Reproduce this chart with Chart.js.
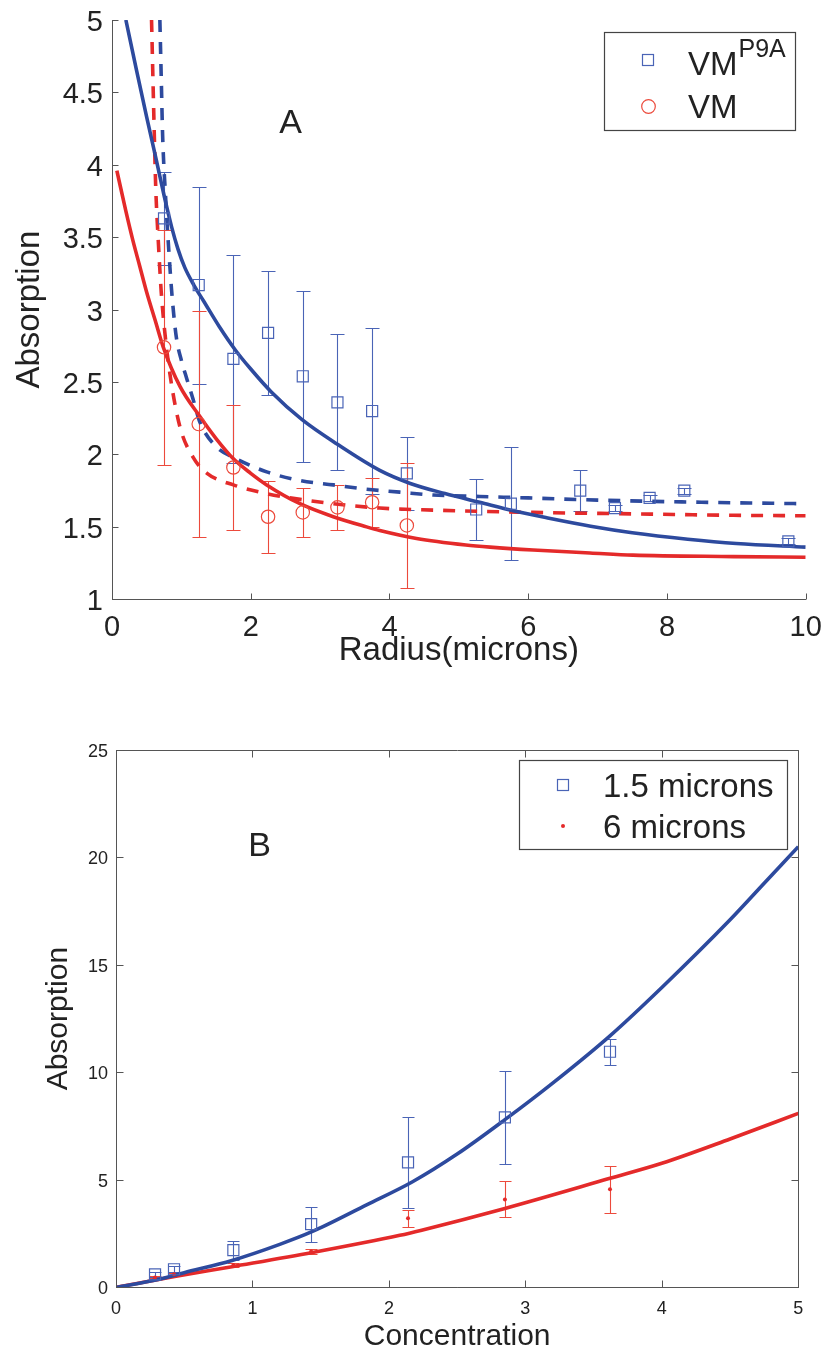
<!DOCTYPE html>
<html>
<head>
<meta charset="utf-8">
<script src="https://cdn.jsdelivr.net/npm/chart.js@4.4.0/dist/chart.umd.min.js"></script>
<style>
html,body{margin:0;padding:0;background:#fff;}
#wrap{position:relative;width:828px;height:1352px;overflow:hidden;}
canvas{position:absolute;left:0;}
#cA{top:0;}
#cB{top:690px;}
</style>
</head>
<body>
<div id="wrap">
<canvas id="cA" width="828" height="690"></canvas>
<canvas id="cB" width="828" height="662"></canvas>
</div>
<script>
// ---------------- Panel A data ----------------
const radiusP9A = [0.75, 1.25, 1.75, 2.25, 2.75, 3.25, 3.75, 4.25, 5.25, 5.75, 6.75, 7.25, 7.75, 8.25, 9.75];
const absP9A    = [3.63, 3.17, 2.66, 2.84, 2.54, 2.36, 2.30, 1.87, 1.62, 1.66, 1.75, 1.63, 1.70, 1.75, 1.40];
const errP9A    = [0.32, 0.68, 0.72, 0.43, 0.59, 0.47, 0.57, 0.25, 0.21, 0.39, 0.14, 0.02, 0.02, 0.02, 0.02];

const radiusVM = [0.75, 1.25, 1.75, 2.25, 2.75, 3.25, 3.75, 4.25];
const absVM    = [2.74, 2.21, 1.91, 1.57, 1.60, 1.635, 1.67, 1.51];
const errVM    = [0.81, 0.78, 0.43, 0.25, 0.17, 0.155, 0.17, 0.43];

// fitted curves
const fitP9ASolidX = [0.2, 0.35, 0.5, 0.64, 0.75, 0.86, 0.95, 1.05, 1.18, 1.32, 1.55, 1.78, 2.0, 2.3, 2.74, 3.25, 3.86, 4.3, 4.8, 5.3, 5.8, 6.3, 6.9, 7.5, 8.3, 9.0, 10];
const fitP9ASolidY = [5.0, 4.66, 4.33, 4.03, 3.79, 3.57, 3.42, 3.29, 3.17, 3.06, 2.88, 2.72, 2.59, 2.43, 2.24, 2.07, 1.89, 1.80, 1.73, 1.67, 1.61, 1.56, 1.505, 1.46, 1.415, 1.385, 1.36];

const fitVMSolidX = [0.07, 0.2, 0.3, 0.4, 0.5, 0.62, 0.74, 0.98, 1.27, 1.5, 1.75, 2.0, 2.23, 2.71, 3.19, 3.67, 3.86, 4.39, 5.1, 5.45, 6.07, 6.89, 7.51, 8.96, 10];
const fitVMSolidY = [3.96, 3.68, 3.48, 3.30, 3.12, 2.93, 2.74, 2.47, 2.26, 2.11, 1.97, 1.87, 1.79, 1.66, 1.57, 1.50, 1.475, 1.42, 1.375, 1.36, 1.34, 1.32, 1.305, 1.295, 1.29];

const fitP9ADashX = [0.69, 0.71, 0.73, 0.77, 0.82, 0.87, 0.93, 1.0, 1.08, 1.17, 1.27, 1.51, 1.75, 2.23, 2.71, 3.19, 3.67, 4.15, 4.63, 5.3, 6.0, 7.0, 8.5, 10];
const fitP9ADashY = [5.0, 4.6, 4.2, 3.8, 3.4, 3.07, 2.80, 2.65, 2.52, 2.38, 2.22, 2.05, 1.98, 1.88, 1.82, 1.79, 1.76, 1.74, 1.72, 1.71, 1.70, 1.685, 1.67, 1.66];

const fitVMDashX = [0.57, 0.60, 0.63, 0.67, 0.71, 0.76, 0.84, 0.98, 1.17, 1.37, 1.75, 2.23, 2.71, 3.19, 3.86, 4.63, 6.07, 7.51, 8.96, 10];
const fitVMDashY = [5.0, 4.4, 3.85, 3.45, 3.12, 2.85, 2.54, 2.19, 1.98, 1.87, 1.79, 1.73, 1.69, 1.66, 1.63, 1.616, 1.60, 1.59, 1.58, 1.577];

const xTicksA = [0, 2, 4, 6, 8, 10];
const yTicksA = [1, 1.5, 2, 2.5, 3, 3.5, 4, 4.5, 5];

// ---------------- Panel B data ----------------
const concentration = [0.286, 0.425, 0.86, 1.43, 2.14, 2.85, 3.62];
const abs15  = [0.60, 0.84, 1.73, 2.94, 5.81, 7.91, 10.96];
const err15  = [0.10, 0.14, 0.44, 0.81, 2.10, 2.15, 0.60];
const abs6   = [0.46, 0.61, 1.04, 1.66, 3.21, 4.09, 4.56];
const err6   = [0.05, 0.05, 0.10, 0.12, 0.40, 0.84, 1.10];

const fit15X = [0, 0.3, 0.5, 0.85, 1.2, 1.44, 1.84, 2.17, 2.5, 2.85, 3.2, 3.62, 4.0, 4.5, 4.75, 5.0];
const fit15Y = [0, 0.35, 0.68, 1.25, 2.0, 2.6, 3.85, 4.9, 6.2, 7.8, 9.5, 11.7, 13.95, 17.1, 18.8, 20.5];
const fit6X  = [0, 0.43, 0.85, 1.44, 2.08, 2.24, 2.85, 3.62, 4.0, 4.5, 5.0];
const fit6Y  = [0, 0.5, 0.96, 1.62, 2.42, 2.66, 3.67, 5.07, 5.77, 6.9, 8.09];

const xTicksB = [0, 1, 2, 3, 4, 5];
const yTicksB = [0, 5, 10, 15, 20, 25];

const legendA = ['VM', 'VM'];
const legendASup = 'P9A';
const legendB = ['1.5 microns', '6 microns'];

// ---------------- styles ----------------
const FONT = "'Liberation Sans', Arial, Helvetica, sans-serif";
Chart.defaults.font.family = FONT;
Chart.defaults.color = '#222';
const BLUE = '#2d4a9e';
const RED = '#e42a2a';
const BLUE_M = '#4a64b6';
const RED_M = '#ec4a3c';

const pts = (xs, ys) => xs.map((x, i) => ({x: x, y: ys[i]}));

const errorBars = {
  id: 'errorBars',
  beforeDatasetsDraw(chart) {
    const {ctx, scales: {x, y}} = chart;
    chart.data.datasets.forEach((ds) => {
      if (!ds.errors) return;
      ctx.save();
      ctx.strokeStyle = ds.errorColor;
      ctx.lineWidth = 1.1;
      const cap = ds.capHalf;
      ds.data.forEach((p, k) => {
        const e = ds.errors[k];
        const px = Math.round(x.getPixelForValue(p.x)) + 0.5;
        const y1 = Math.round(y.getPixelForValue(p.y + e)) + 0.5;
        const y2 = Math.round(y.getPixelForValue(p.y - e)) + 0.5;
        ctx.beginPath();
        ctx.moveTo(px, y1); ctx.lineTo(px, y2);
        ctx.moveTo(px - cap, y1); ctx.lineTo(px + cap, y1);
        ctx.moveTo(px - cap, y2); ctx.lineTo(px + cap, y2);
        ctx.stroke();
      });
      ctx.restore();
    });
  }
};

const frame = {
  id: 'frame',
  afterDraw(chart, args, opts) {
    const {ctx, chartArea: a, scales: {x, y}} = chart;
    const L = opts.len;
    ctx.save();
    ctx.strokeStyle = opts.color;
    ctx.lineWidth = 1;
    const l = Math.round(a.left) + 0.5, r = Math.round(a.right) + 0.5;
    const t = Math.round(a.top) + 0.5, b = Math.round(a.bottom) + 0.5;
    ctx.beginPath();
    if (opts.box) { ctx.rect(l, t, r - l, b - t); }
    x.ticks.forEach(tk => {
      const p = Math.round(x.getPixelForValue(tk.value)) + 0.5;
      ctx.moveTo(p, b); ctx.lineTo(p, b - L);
      if (opts.box) { ctx.moveTo(p, t); ctx.lineTo(p, t + L); }
    });
    y.ticks.forEach(tk => {
      const p = Math.round(y.getPixelForValue(tk.value)) + 0.5;
      ctx.moveTo(l, p); ctx.lineTo(l + L, p);
      if (opts.box) { ctx.moveTo(r, p); ctx.lineTo(r - L, p); }
    });
    ctx.stroke();
    ctx.fillStyle = '#222';
    ctx.font = opts.letterSize + 'px ' + FONT;
    ctx.textAlign = 'left';
    ctx.textBaseline = 'alphabetic';
    ctx.fillText(opts.letter, x.getPixelForValue(opts.letterX), y.getPixelForValue(opts.letterY));
    ctx.restore();
  }
};

const legendPanelA = {
  id: 'legendPanelA',
  afterDraw(chart) {
    const ctx = chart.ctx;
    ctx.save();
    ctx.fillStyle = '#fff';
    ctx.fillRect(604.5, 32.5, 191, 98);
    ctx.strokeStyle = '#444'; ctx.lineWidth = 1.2;
    ctx.strokeRect(604.5, 32.5, 191, 98);
    ctx.strokeStyle = BLUE_M; ctx.lineWidth = 1.2;
    ctx.strokeRect(642.5, 54.5, 11, 11);
    ctx.strokeStyle = RED_M;
    ctx.beginPath(); ctx.arc(648.5, 106.5, 6.8, 0, Math.PI * 2); ctx.stroke();
    ctx.fillStyle = '#222';
    ctx.textBaseline = 'alphabetic'; ctx.textAlign = 'left';
    ctx.font = '33px ' + FONT;
    ctx.fillText(legendA[0], 688, 75);
    const w = ctx.measureText(legendA[0]).width;
    ctx.font = '25px ' + FONT;
    ctx.fillText(legendASup, 688 + w + 1, 57);
    ctx.font = '33px ' + FONT;
    ctx.fillText(legendA[1], 688, 117.5);
    ctx.restore();
  }
};

const legendPanelB = {
  id: 'legendPanelB',
  afterDraw(chart) {
    const ctx = chart.ctx;
    ctx.save();
    ctx.fillStyle = '#fff';
    ctx.fillRect(519.5, 70.5, 268, 89);
    ctx.strokeStyle = '#444'; ctx.lineWidth = 1.2;
    ctx.strokeRect(519.5, 70.5, 268, 89);
    ctx.strokeStyle = BLUE_M; ctx.lineWidth = 1.2;
    ctx.strokeRect(557.5, 89.5, 11, 11);
    ctx.fillStyle = RED;
    ctx.beginPath(); ctx.arc(563, 136, 2, 0, Math.PI * 2); ctx.fill();
    ctx.fillStyle = '#222';
    ctx.textBaseline = 'alphabetic'; ctx.textAlign = 'left';
    ctx.font = '33px ' + FONT;
    ctx.fillText(legendB[0], 603, 106.5);
    ctx.fillText(legendB[1], 603, 147.5);
    ctx.restore();
  }
};

function axisCommon(min, max, ticksArr, size, pad, off) {
  return {
    type: 'linear', min: min, max: max,
    afterBuildTicks: s => { s.ticks = ticksArr.map(v => ({value: v})); },
    ticks: { font: {size: size}, color: '#222', padding: pad, labelOffset: off || 0, callback: v => String(v), maxRotation: 0, autoSkip: false },
    grid: { display: false, drawTicks: false },
    border: { display: true, color: '#555', width: 1 }
  };
}

// ---------------- Chart A ----------------
const xA = axisCommon(0, 10, xTicksA, 29, 11);
xA.title = { display: true, text: 'Radius(microns)', font: {size: 33}, color: '#222', padding: {top: 0, bottom: 19} };
xA.afterFit = s => { s.height = 90.7; s.paddingLeft = 0; s.paddingRight = 0; };
const yA = axisCommon(1, 5, yTicksA, 29, 9, 3);
yA.title = { display: true, text: 'Absorption', font: {size: 33}, color: '#222', padding: {top: 10, bottom: 0} };
yA.afterFit = s => { s.width = 112; s.paddingTop = 0; s.paddingBottom = 0; };

new Chart(document.getElementById('cA'), {
  type: 'scatter',
  data: {
    datasets: [
      { label: 'VMP9A', data: pts(radiusP9A, absP9A), errors: errP9A, errorColor: BLUE_M, capHalf: 7,
        pointStyle: 'rect', pointRadius: 7.8, pointBorderWidth: 1.2, borderColor: BLUE_M, backgroundColor: 'rgba(0,0,0,0)', showLine: false },
      { label: 'VM', data: pts(radiusVM, absVM), errors: errVM, errorColor: RED_M, capHalf: 7,
        pointStyle: 'circle', pointRadius: 6.7, pointBorderWidth: 1.2, borderColor: RED_M, backgroundColor: 'rgba(0,0,0,0)', showLine: false },
      { label: 'fit P9A', data: pts(fitP9ASolidX, fitP9ASolidY), showLine: true, pointRadius: 0, borderColor: BLUE, borderWidth: 3.6, cubicInterpolationMode: 'monotone' },
      { label: 'fit VM', data: pts(fitVMSolidX, fitVMSolidY), showLine: true, pointRadius: 0, borderColor: RED, borderWidth: 3.6, cubicInterpolationMode: 'monotone' },
      { label: 'fit2 P9A', data: pts(fitP9ADashX, fitP9ADashY), showLine: true, pointRadius: 0, borderColor: BLUE, borderWidth: 3.6, borderDash: [12, 10], cubicInterpolationMode: 'monotone' },
      { label: 'fit2 VM', data: pts(fitVMDashX, fitVMDashY), showLine: true, pointRadius: 0, borderColor: RED, borderWidth: 3.6, borderDash: [12, 10], cubicInterpolationMode: 'monotone' }
    ]
  },
  options: {
    responsive: false, animation: false, devicePixelRatio: 1,
    layout: { padding: { top: 20, right: 22.3, bottom: 0, left: 0 } },
    plugins: {
      legend: { display: false }, tooltip: { enabled: false },
      frame: { len: 6, color: '#555', box: false, letter: 'A', letterSize: 34, letterX: 2.41, letterY: 4.22 }
    },
    scales: { x: xA, y: yA }
  },
  plugins: [errorBars, frame, legendPanelA]
});

// ---------------- Chart B ----------------
const xB = axisCommon(0, 5, xTicksB, 18, 11);
xB.title = { display: true, text: 'Concentration', font: {size: 30, lineHeight: 1}, color: '#222', padding: {top: 0, bottom: 0} };
xB.afterFit = s => { s.height = 64.7; s.paddingLeft = 0; s.paddingRight = 0; };
const yB = axisCommon(0, 25, yTicksB, 18, 8, 2);
yB.title = { display: true, text: 'Absorption', font: {size: 30}, color: '#222', padding: {top: 41, bottom: 0} };
yB.afterFit = s => { s.width = 116; s.paddingTop = 0; s.paddingBottom = 0; };

new Chart(document.getElementById('cB'), {
  type: 'scatter',
  data: {
    datasets: [
      { label: '1.5 microns', data: pts(concentration, abs15), errors: err15, errorColor: BLUE_M, capHalf: 6,
        pointStyle: 'rect', pointRadius: 7.8, pointBorderWidth: 1.2, borderColor: BLUE_M, backgroundColor: 'rgba(0,0,0,0)', showLine: false },
      { label: '6 microns', data: pts(concentration, abs6), errors: err6, errorColor: RED_M, capHalf: 6,
        pointStyle: 'circle', pointRadius: 2, pointBorderWidth: 0, borderColor: RED, backgroundColor: RED, showLine: false },
      { label: 'fit 1.5', data: pts(fit15X, fit15Y), showLine: true, pointRadius: 0, borderColor: BLUE, borderWidth: 3.6, cubicInterpolationMode: 'monotone' },
      { label: 'fit 6', data: pts(fit6X, fit6Y), showLine: true, pointRadius: 0, borderColor: RED, borderWidth: 3.6, cubicInterpolationMode: 'monotone' }
    ]
  },
  options: {
    responsive: false, animation: false, devicePixelRatio: 1,
    layout: { padding: { top: 60, right: 29.7, bottom: 0, left: 0 } },
    plugins: {
      legend: { display: false }, tooltip: { enabled: false },
      frame: { len: 7, color: '#555', box: true, letter: 'B', letterSize: 34, letterX: 0.97, letterY: 20.06 }
    },
    scales: { x: xB, y: yB }
  },
  plugins: [errorBars, frame, legendPanelB]
});
</script>
</body>
</html>
